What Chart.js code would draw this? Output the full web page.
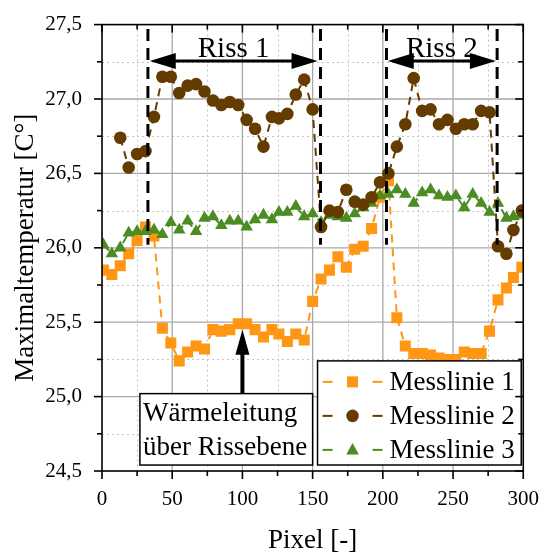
<!DOCTYPE html>
<html>
<head>
<meta charset="utf-8">
<script src="https://cdn.jsdelivr.net/npm/chart.js@4.4.1/dist/chart.umd.min.js"></script>
<style>
  html, body { margin: 0; padding: 0; background: #fff; }
</style>
</head>
<body>
<canvas id="chart" width="547" height="552"></canvas>
<script>
// Pixel positions along the measuring lines
const pixelX = [1, 7, 13, 19, 25, 31, 37, 43, 49, 55, 61, 67, 73, 79, 85, 91, 97, 103, 109, 115,
  121, 126, 132, 138, 144, 150, 156, 162, 168, 174, 180, 186, 192, 198, 204, 210, 216, 222, 228, 234,
  240, 246, 252, 258, 264, 270, 276, 282, 288, 293, 299];

const messlinie1 = [25.85, 25.82, 25.88, 25.96, 26.05, 26.14, 26.08, 25.46, 25.36, 25.24, 25.30, 25.34, 25.32, 25.45, 25.44, 25.45, 25.49, 25.49, 25.45, 25.40,
  25.45, 25.42, 25.37, 25.42, 25.38, 25.64, 25.79, 25.85, 25.94, 25.87, 25.99, 26.01, 26.13, 26.34, 26.45, 25.53, 25.34, 25.29, 25.29, 25.28,
  25.26, 25.25, 25.25, 25.30, 25.29, 25.29, 25.44, 25.65, 25.73, 25.80, 25.87];

const messlinie2 = [null, null, 26.74, 26.54, 26.63, 26.65, 26.88, 27.15, 27.15, 27.04, 27.09, 27.10, 27.05, 26.99, 26.96, 26.98, 26.96, 26.86, 26.80, 26.68,
  26.88, 26.87, 26.90, 27.03, 27.13, 26.93, 26.14, 26.25, 26.24, 26.39, 26.31, 26.29, 26.34, 26.44, 26.50, 26.68, 26.83, 27.14, 26.92, 26.93,
  26.83, 26.86, 26.80, 26.83, 26.83, 26.92, 26.91, 26.01, 25.96, 26.12, 26.25];

const messlinie3 = [26.02, 25.96, 26.00, 26.10, 26.11, 26.11, 26.12, 26.09, 26.17, 26.12, 26.18, 26.11, 26.20, 26.21, 26.15, 26.18, 26.18, 26.14, 26.19, 26.22,
  26.19, 26.24, 26.24, 26.28, 26.21, 26.23, 26.17, 26.22, 26.21, 26.20, 26.23, 26.27, 26.30, 26.35, 26.36, 26.39, 26.36, 26.30, 26.37, 26.39,
  26.35, 26.34, 26.35, 26.27, 26.36, 26.30, 26.24, 26.30, 26.20, 26.21, 26.22];

const seriesNames = ["Messlinie 1", "Messlinie 2", "Messlinie 3"];
const xTicks = [0, 50, 100, 150, 200, 250, 300];
const yTicks = [24.5, 25.0, 25.5, 26.0, 26.5, 27.0, 27.5];

// crack borders and annotations (data coordinates)
const rissGrenzen = [32.7, 155.6, 202.6, 281.4];
const rissPfeile = [
  { label: "Riss 1", from: 34, to: 153.5 },
  { label: "Riss 2", from: 203.5, to: 280.5 }
];

const serif = "'Liberation Serif', 'Times New Roman', serif";
const colors = ["#ff9614", "#643c00", "#4b8c23"];
const shapes = ["rect", "circle", "triangle"];

function toPoints(ys) {
  return pixelX.map((x, i) => ({ x: x, y: ys[i] }));
}

function marker(ctx, shape, x, y, color) {
  ctx.save();
  ctx.fillStyle = color;
  ctx.beginPath();
  if (shape === "rect") {
    ctx.rect(x - 5.5, y - 5.5, 11, 11);
  } else if (shape === "circle") {
    ctx.arc(x, y, 6.3, 0, Math.PI * 2);
  } else {
    ctx.moveTo(x, y - 7);
    ctx.lineTo(x + 6.3, y + 4.5);
    ctx.lineTo(x - 6.3, y + 4.5);
    ctx.closePath();
  }
  ctx.fill();
  ctx.restore();
}

function arrowHead(ctx, x, y, dx, dy, len, half) {
  // tip at (x,y), pointing in direction (dx,dy)
  const px = -dy, py = dx;
  ctx.beginPath();
  ctx.moveTo(x, y);
  ctx.lineTo(x - dx * len + px * half, y - dy * len + py * half);
  ctx.lineTo(x - dx * len - px * half, y - dy * len - py * half);
  ctx.closePath();
  ctx.fill();
}

const gridPlugin = {
  id: "gridPlugin",
  beforeDatasetsDraw(chart) {
    const { ctx, chartArea: a, scales: { x, y } } = chart;
    ctx.save();
    ctx.lineWidth = 1;
    // minor dotted
    ctx.strokeStyle = "#c4c4c4";
    ctx.setLineDash([2, 3]);
    for (let i = 0; i < xTicks.length - 1; i++) {
      const px = Math.round(x.getPixelForValue((xTicks[i] + xTicks[i + 1]) / 2)) + 0.5;
      ctx.beginPath(); ctx.moveTo(px, a.top); ctx.lineTo(px, a.bottom); ctx.stroke();
    }
    for (let i = 0; i < yTicks.length - 1; i++) {
      const py = Math.round(y.getPixelForValue((yTicks[i] + yTicks[i + 1]) / 2)) + 0.5;
      ctx.beginPath(); ctx.moveTo(a.left, py); ctx.lineTo(a.right, py); ctx.stroke();
    }
    // major solid
    ctx.setLineDash([]);
    ctx.strokeStyle = "#a8a8a8";
    ctx.lineWidth = 1.3;
    xTicks.slice(1, -1).forEach(v => {
      const px = x.getPixelForValue(v);
      ctx.beginPath(); ctx.moveTo(px, a.top); ctx.lineTo(px, a.bottom); ctx.stroke();
    });
    yTicks.slice(1, -1).forEach(v => {
      const py = y.getPixelForValue(v);
      ctx.beginPath(); ctx.moveTo(a.left, py); ctx.lineTo(a.right, py); ctx.stroke();
    });
    ctx.restore();
  },
  afterDatasetsDraw(chart) {
    const { ctx, chartArea: a, scales: { x, y } } = chart;
    ctx.save();

    // dashed crack borders
    ctx.strokeStyle = "#000";
    ctx.lineWidth = 3;
    ctx.setLineDash([12, 7]);
    rissGrenzen.forEach(v => {
      const px = x.getPixelForValue(v);
      ctx.beginPath();
      ctx.moveTo(px, y.getPixelForValue(27.47));
      ctx.lineTo(px, y.getPixelForValue(26.02));
      ctx.stroke();
    });
    ctx.setLineDash([]);

    // crack arrows
    ctx.fillStyle = "#000";
    ctx.lineWidth = 3;
    const ay = y.getPixelForValue(27.255);
    rissPfeile.forEach(r => {
      const x1 = x.getPixelForValue(r.from), x2 = x.getPixelForValue(r.to);
      ctx.beginPath(); ctx.moveTo(x1 + 10, ay); ctx.lineTo(x2 - 10, ay); ctx.stroke();
      arrowHead(ctx, x1, ay, -1, 0, 26, 8);
      arrowHead(ctx, x2, ay, 1, 0, 26, 8);
      ctx.font = "29px " + serif;
      ctx.textAlign = "center";
      ctx.textBaseline = "alphabetic";
      ctx.fillText(r.label, (x1 + x2) / 2, ay - 4);
    });

    // heat conduction arrow and text box
    const vx = x.getPixelForValue(100);
    const tip = y.getPixelForValue(25.45);
    const boxTop = y.getPixelForValue(25.02);
    ctx.lineWidth = 4;
    ctx.beginPath(); ctx.moveTo(vx, boxTop); ctx.lineTo(vx, tip + 15); ctx.stroke();
    arrowHead(ctx, vx, tip, 0, -1, 25, 7);

    const bx1 = x.getPixelForValue(27), bx2 = x.getPixelForValue(150);
    const by2 = y.getPixelForValue(24.54);
    ctx.fillStyle = "#fff";
    ctx.fillRect(bx1, boxTop, bx2 - bx1, by2 - boxTop);
    ctx.strokeStyle = "#000";
    ctx.lineWidth = 1.5;
    ctx.strokeRect(bx1, boxTop, bx2 - bx1, by2 - boxTop);
    ctx.fillStyle = "#000";
    ctx.font = "27px " + serif;
    ctx.textAlign = "left";
    ctx.textBaseline = "middle";
    ctx.fillText("Wärmeleitung", bx1 + 3, boxTop + 20);
    ctx.fillText("über Rissebene", bx1 + 3, boxTop + 54);

    // legend
    const lx1 = x.getPixelForValue(153.5), lx2 = a.right - 2;
    const ly1 = y.getPixelForValue(25.24), ly2 = a.bottom - 6;
    ctx.fillStyle = "#fff";
    ctx.fillRect(lx1, ly1, lx2 - lx1, ly2 - ly1);
    ctx.lineWidth = 1.5;
    ctx.strokeRect(lx1, ly1, lx2 - lx1, ly2 - ly1);
    seriesNames.forEach((name, i) => {
      const ry = ly1 + 21 + i * 34;
      ctx.strokeStyle = colors[i];
      ctx.lineWidth = 2;
      ctx.beginPath(); ctx.moveTo(lx1 + 5, ry); ctx.lineTo(lx1 + 15, ry); ctx.stroke();
      ctx.beginPath(); ctx.moveTo(lx1 + 55, ry); ctx.lineTo(lx1 + 65, ry); ctx.stroke();
      marker(ctx, shapes[i], lx1 + 35, ry, colors[i]);
      ctx.fillStyle = "#000";
      ctx.font = "27px " + serif;
      ctx.textAlign = "left";
      ctx.textBaseline = "middle";
      ctx.fillText(name, lx1 + 72, ry + 1);
    });

    // frame and ticks
    ctx.strokeStyle = "#000";
    ctx.lineWidth = 1.6;
    ctx.strokeRect(a.left, a.top, a.right - a.left, a.bottom - a.top);
    const tick = (x1, y1, x2, y2) => { ctx.beginPath(); ctx.moveTo(x1, y1); ctx.lineTo(x2, y2); ctx.stroke(); };
    for (let i = 0; i < xTicks.length; i++) {
      const px = x.getPixelForValue(xTicks[i]);
      tick(px, a.bottom, px, a.bottom + 8);
      tick(px, a.top, px, a.top + 8);
      if (i < xTicks.length - 1) {
        const mx = x.getPixelForValue((xTicks[i] + xTicks[i + 1]) / 2);
        tick(mx, a.bottom, mx, a.bottom + 5);
        tick(mx, a.top, mx, a.top + 5);
      }
    }
    for (let i = 0; i < yTicks.length; i++) {
      const py = y.getPixelForValue(yTicks[i]);
      tick(a.left - 8, py, a.left, py);
      tick(a.right - 8, py, a.right, py);
      if (i < yTicks.length - 1) {
        const my = y.getPixelForValue((yTicks[i] + yTicks[i + 1]) / 2);
        tick(a.left - 5, my, a.left, my);
        tick(a.right - 5, my, a.right, my);
      }
    }
    ctx.restore();
  }
};

const datasets = [messlinie1, messlinie2, messlinie3].map((ys, i) => ({
  label: seriesNames[i],
  data: toPoints(ys),
  borderColor: colors[i],
  backgroundColor: colors[i],
  borderWidth: 2,
  borderDash: [8, 6],
  pointStyle: shapes[i],
  pointRadius: [7.8, 6.3, 7.2][i],
  pointBorderWidth: 0,
  pointHoverRadius: 0,
  tension: 0,
  order: [2, 0, 1][i]
}));

new Chart(document.getElementById("chart"), {
  type: "line",
  data: { datasets: datasets },
  options: {
    responsive: false,
    animation: false,
    events: [],
    layout: { padding: { top: 19, right: 23, left: 0, bottom: 0 } },
    plugins: { legend: { display: false }, tooltip: { enabled: false } },
    scales: {
      x: {
        type: "linear",
        min: 0,
        max: 300,
        afterBuildTicks: s => { s.ticks = xTicks.map(v => ({ value: v })); },
        afterFit: s => { s.height = 81; },
        ticks: {
          color: "#000",
          font: { family: serif, size: 21 },
          padding: 8,
          maxRotation: 0,
          callback: v => String(v)
        },
        grid: { display: false },
        border: { display: false },
        title: {
          display: true,
          text: "Pixel [-]",
          color: "#000",
          font: { family: serif, size: 27, lineHeight: 0.8 },
          padding: { top: 0, bottom: 0 }
        }
      },
      y: {
        type: "linear",
        min: 24.5,
        max: 27.5,
        afterBuildTicks: s => { s.ticks = yTicks.map(v => ({ value: v })); },
        afterFit: s => { s.width = 102; },
        ticks: {
          color: "#000",
          font: { family: serif, size: 21 },
          padding: 12,
          callback: v => v.toFixed(1).replace(".", ",")
        },
        grid: { display: false },
        border: { display: false },
        title: {
          display: true,
          text: "Maximaltemperatur [C°]",
          color: "#000",
          font: { family: serif, size: 27, lineHeight: 1 },
          padding: { top: 12, bottom: 0 }
        }
      }
    }
  },
  plugins: [gridPlugin]
});
</script>
</body>
</html>
